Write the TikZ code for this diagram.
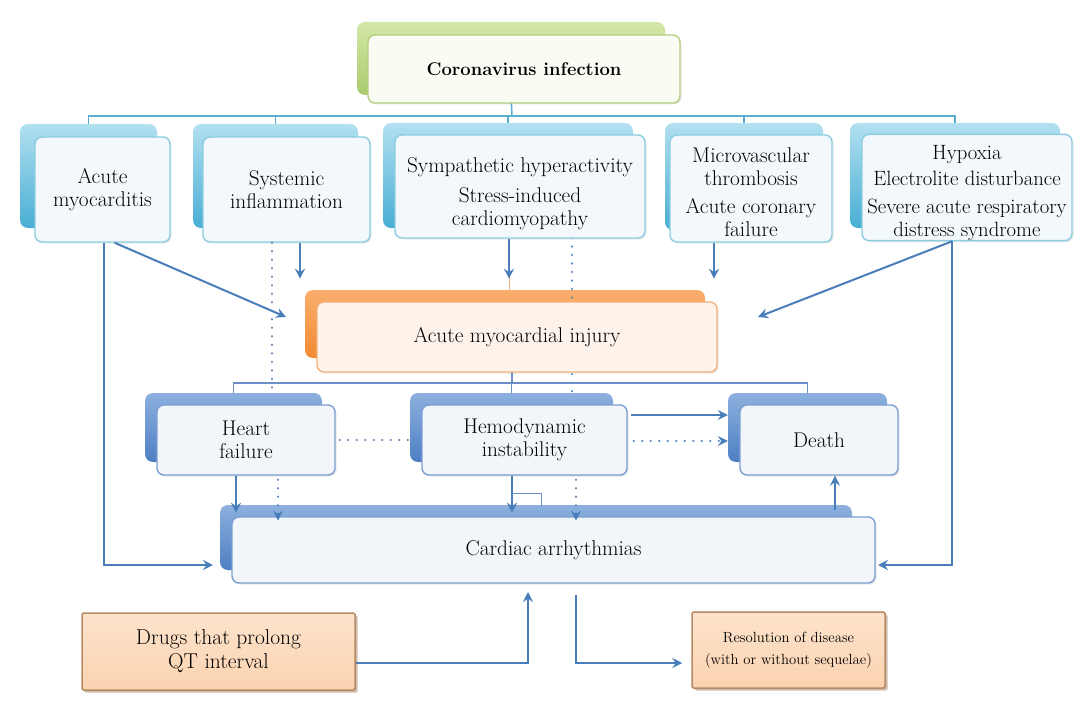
\documentclass[tikz,border=0pt]{standalone}
\usepackage{fontspec}
\usetikzlibrary{arrows.meta,shadows,calc}
\definecolor{cA}{HTML}{4A7EBB}
\definecolor{tealL}{HTML}{5AAFD0}
\definecolor{blueL}{HTML}{6C8FC8}
\definecolor{cyTop}{HTML}{B2E0F0}
\definecolor{cyBot}{HTML}{48AED4}
\definecolor{cyFill}{HTML}{F2F8FB}
\definecolor{cyDraw}{HTML}{8DCDE2}
\definecolor{blTop}{HTML}{8DB0DE}
\definecolor{blBot}{HTML}{4D7FC3}
\definecolor{blFill}{HTML}{F2F5FA}
\definecolor{blDraw}{HTML}{7D9FD2}
\definecolor{orTop}{HTML}{F9AE6C}
\definecolor{orBot}{HTML}{F28A32}
\definecolor{orFill}{HTML}{FDF3EB}
\definecolor{orDraw}{HTML}{F5B27C}
\definecolor{grTop}{HTML}{D4E8A8}
\definecolor{grBot}{HTML}{A9CA6C}
\definecolor{grFill}{HTML}{FAFCF4}
\definecolor{grDraw}{HTML}{B3CF80}
\definecolor{pcFill}{HTML}{FBD3B0}
\definecolor{pcTop}{HTML}{FDE3CC}
\definecolor{pcDraw}{HTML}{B88A64}
\tikzset{
  txt/.style={align=center, font=\fontsize{21.3}{23}\selectfont, inner sep=0pt},
  backbox/.style={rounded corners=8pt, draw=none, inner sep=0pt},
  frontbox/.style={rounded corners=7pt, line width=1.4pt, txt,
     drop shadow={opacity=0.18, shadow xshift=1.5pt, shadow yshift=-1.5pt}},
  cyB/.style={backbox, top color=cyTop, bottom color=cyBot},
  cyF/.style={frontbox, draw=cyDraw, fill=cyFill},
  blB/.style={backbox, top color=blTop, bottom color=blBot},
  blF/.style={frontbox, draw=blDraw, fill=blFill},
  orB/.style={backbox, top color=orTop, bottom color=orBot},
  orF/.style={frontbox, draw=orDraw, fill=orFill},
  grB/.style={backbox, top color=grTop, bottom color=grBot},
  grF/.style={frontbox, draw=grDraw, fill=grFill},
  pcF/.style={rounded corners=1.5pt, line width=1.5pt, draw=pcDraw,
     top color=pcTop, bottom color=pcFill, txt,
     drop shadow={opacity=0.45, fill=pcDraw!80!black, shadow xshift=2.5pt, shadow yshift=-2.5pt}},
  arr/.style={draw=cA, line width=2pt, -{Stealth[length=10pt,width=10pt,inset=3.5pt]}},
  dotl/.style={draw=cA, line width=2.6pt, line cap=round, dash pattern=on 0.01pt off 8.5pt},
  dotarr/.style={dotl, -{Stealth[length=10pt,width=10pt,inset=3.5pt,line width=0pt]}},
  tealln/.style={draw=tealL, line width=1.5pt},
  blueln/.style={draw=blueL, line width=1.5pt},
}
\begin{document}
\begin{tikzpicture}[x=1pt,y=-1pt]
\path[use as bounding box, fill=white] (0,0) rectangle (1080,725);

% ---- coordinates for free ends
\coordinate (bus) at (512,116);
\coordinate (bus2) at (512,383);
\coordinate (injL) at (286,317);
\coordinate (injR) at (758,317);
\coordinate (caL) at (213,565);
\coordinate (caR) at (878,565);
\coordinate (caUp) at (528,592);

% ---- back boxes
\node[grB, minimum width=308pt, minimum height=73pt] (cvB) at (511,58.5) {};
\node[cyB, minimum width=137pt, minimum height=104pt] (amB) at (88.5,176) {};
\node[cyB, minimum width=165pt, minimum height=104pt] (siB) at (275.5,176) {};
\node[cyB, minimum width=250pt, minimum height=105pt] (spB) at (508,175.5) {};
\node[cyB, minimum width=158pt, minimum height=107pt] (mvB) at (744,176.5) {};
\node[cyB, minimum width=210pt, minimum height=105pt] (hyB) at (955,175.5) {};
\node[orB, minimum width=400pt, minimum height=68pt] (inB) at (505,324) {};
\node[blB, minimum width=177pt, minimum height=69pt] (hfB) at (233.5,427.5) {};
\node[blB, minimum width=203pt, minimum height=69pt] (hdB) at (511.5,427.5) {};
\node[blB, minimum width=159pt, minimum height=69pt] (dtB) at (807.5,427.5) {};
\node[blB, minimum width=632pt, minimum height=65pt] (caB) at (536,537.5) {};

% ---- lines passing behind front boxes
\draw[tealln] (amB.north) |- (bus) -| (hyB.north);
\draw[tealln] (siB.north) -- (siB.north |- bus);
\draw[tealln] (spB.north) -- (spB.north |- bus);
\draw[tealln] (mvB.north) -- (mvB.north |- bus);
\draw[tealln] (cvB.south) -- (bus);
\draw[dotl] (572,238) -- (572,393);
\draw[draw=orDraw, line width=1pt] (509,270) -- (509,292);
\draw[blueln] (inB.south -| bus2) -- (bus2);
\draw[blueln] (hfB.north) |- (bus2) -| (dtB.north);
\draw[blueln] (hdB.north) -- (hdB.north |- bus2);

% ---- front boxes
\node[grF, minimum width=312pt, minimum height=68pt, font=\fontsize{18.4}{21}\selectfont\bfseries] (cvF) at (524,69) {Coronavirus infection};
\node[cyF, minimum width=135pt, minimum height=105pt] (amF) at (102.5,189.5) {Acute\\myocarditis};
\node[cyF, minimum width=167pt, minimum height=105pt] (siF) at (286.5,189.5) {Systemic\\inflammation};
\node[cyF, minimum width=250pt, minimum height=103pt] (spF) at (520,186.5) {\rule{0pt}{29pt}Sympathetic hyperactivity\\[7pt]Stress-induced\\cardiomyopathy};
\node[cyF, minimum width=162pt, minimum height=107pt] (mvF) at (751,188.5) {\rule{0pt}{22pt}Microvascular\\thrombosis\\[5pt]Acute coronary\\failure};
\node[cyF, minimum width=210pt, minimum height=105pt, font=\fontsize{20.7}{23}\selectfont] (hyF) at (967,187.5) {\rule{0pt}{25pt}Hypoxia\\[3pt]Electrolite disturbance\\[5pt]Severe acute respiratory\\distress syndrome};
\node[orF, minimum width=400pt, minimum height=70pt] (inF) at (517,337) {Acute myocardial injury};
\node[blF, minimum width=178pt, minimum height=70pt] (hfF) at (246,440) {Heart\\failure};
\node[blF, minimum width=205pt, minimum height=70pt] (hdF) at (524.5,440) {Hemodynamic\\instability};
\node[blF, minimum width=158pt, minimum height=70pt] (dtF) at (819,440) {Death};
\node[blF, minimum width=643pt, minimum height=66pt] (caF) at (553.5,550) {Cardiac arrhythmias};
\node[pcF, minimum width=273pt, minimum height=77pt, font=\fontsize{21.5}{24}\selectfont] (dgF) at (218.5,651.5) {Drugs that prolong\\QT interval};
\node[pcF, minimum width=193pt, minimum height=76pt, font=\fontsize{14.7}{22}\selectfont] (rsF) at (788.5,650) {Resolution of disease\\(with or without sequelae)};

% ---- connectors over the boxes
\draw[arr] ([xshift=1.5pt]amF.south) |- (caL);
\draw[arr] ([xshift=12pt]amF.south) -- (injL);
\draw[arr] ([xshift=13.5pt]siF.south) -- ++(0,36);
\draw[dotl] ([xshift=-14.5pt]siF.south) -- ([xshift=-14.5pt]siF.south |- hfB.north);
\draw[arr] ([xshift=-11pt]spF.south) -- ++(0,40);
\draw[arr] ([xshift=-37pt]mvF.south) -- ++(0,36);
\draw[arr] ([xshift=-15pt]hyF.south) -- (injR);
\draw[arr] ([xshift=-15pt]hyF.south) |- (caR);
\draw[dotl] ([xshift=4pt]hfF.east) -- (hfF.east -| hdB.west);
\draw[arr] ([xshift=3pt,yshift=25pt]hdF.east) -- ([yshift=25pt]hdF.east -| dtB.west);
\draw[dotarr] ([xshift=6pt,yshift=-1pt]hdF.east) -- ([yshift=-1pt]hdF.east -| dtB.west);
\draw[arr] ([xshift=-10pt]hfF.south) -- ++(0,37);
\draw[dotarr] ([xshift=32pt,yshift=-4pt]hfF.south) -- ++(0,41);
\draw[arr] ([xshift=-12.5pt]hdF.south) -- ++(0,37);
\draw[blueln, line width=1pt] ($(hdF.south)+(-12.5,18)$) -| ($(hdF.south)+(16.5,30)$);
\draw[dotarr] ([xshift=51.5pt,yshift=-4pt]hdF.south) -- ++(0,41);
\draw[arr] ([xshift=16pt,yshift=-5pt]dtF.south |- caB.north) -- ([xshift=16pt]dtF.south);
\draw[arr] ([yshift=-11pt]dgF.east) -| (caUp);
\draw[arr] ([xshift=22.5pt,yshift=-11pt]caF.south) |- ([xshift=-9pt,yshift=-13pt]rsF.west);
\end{tikzpicture}
\end{document}
